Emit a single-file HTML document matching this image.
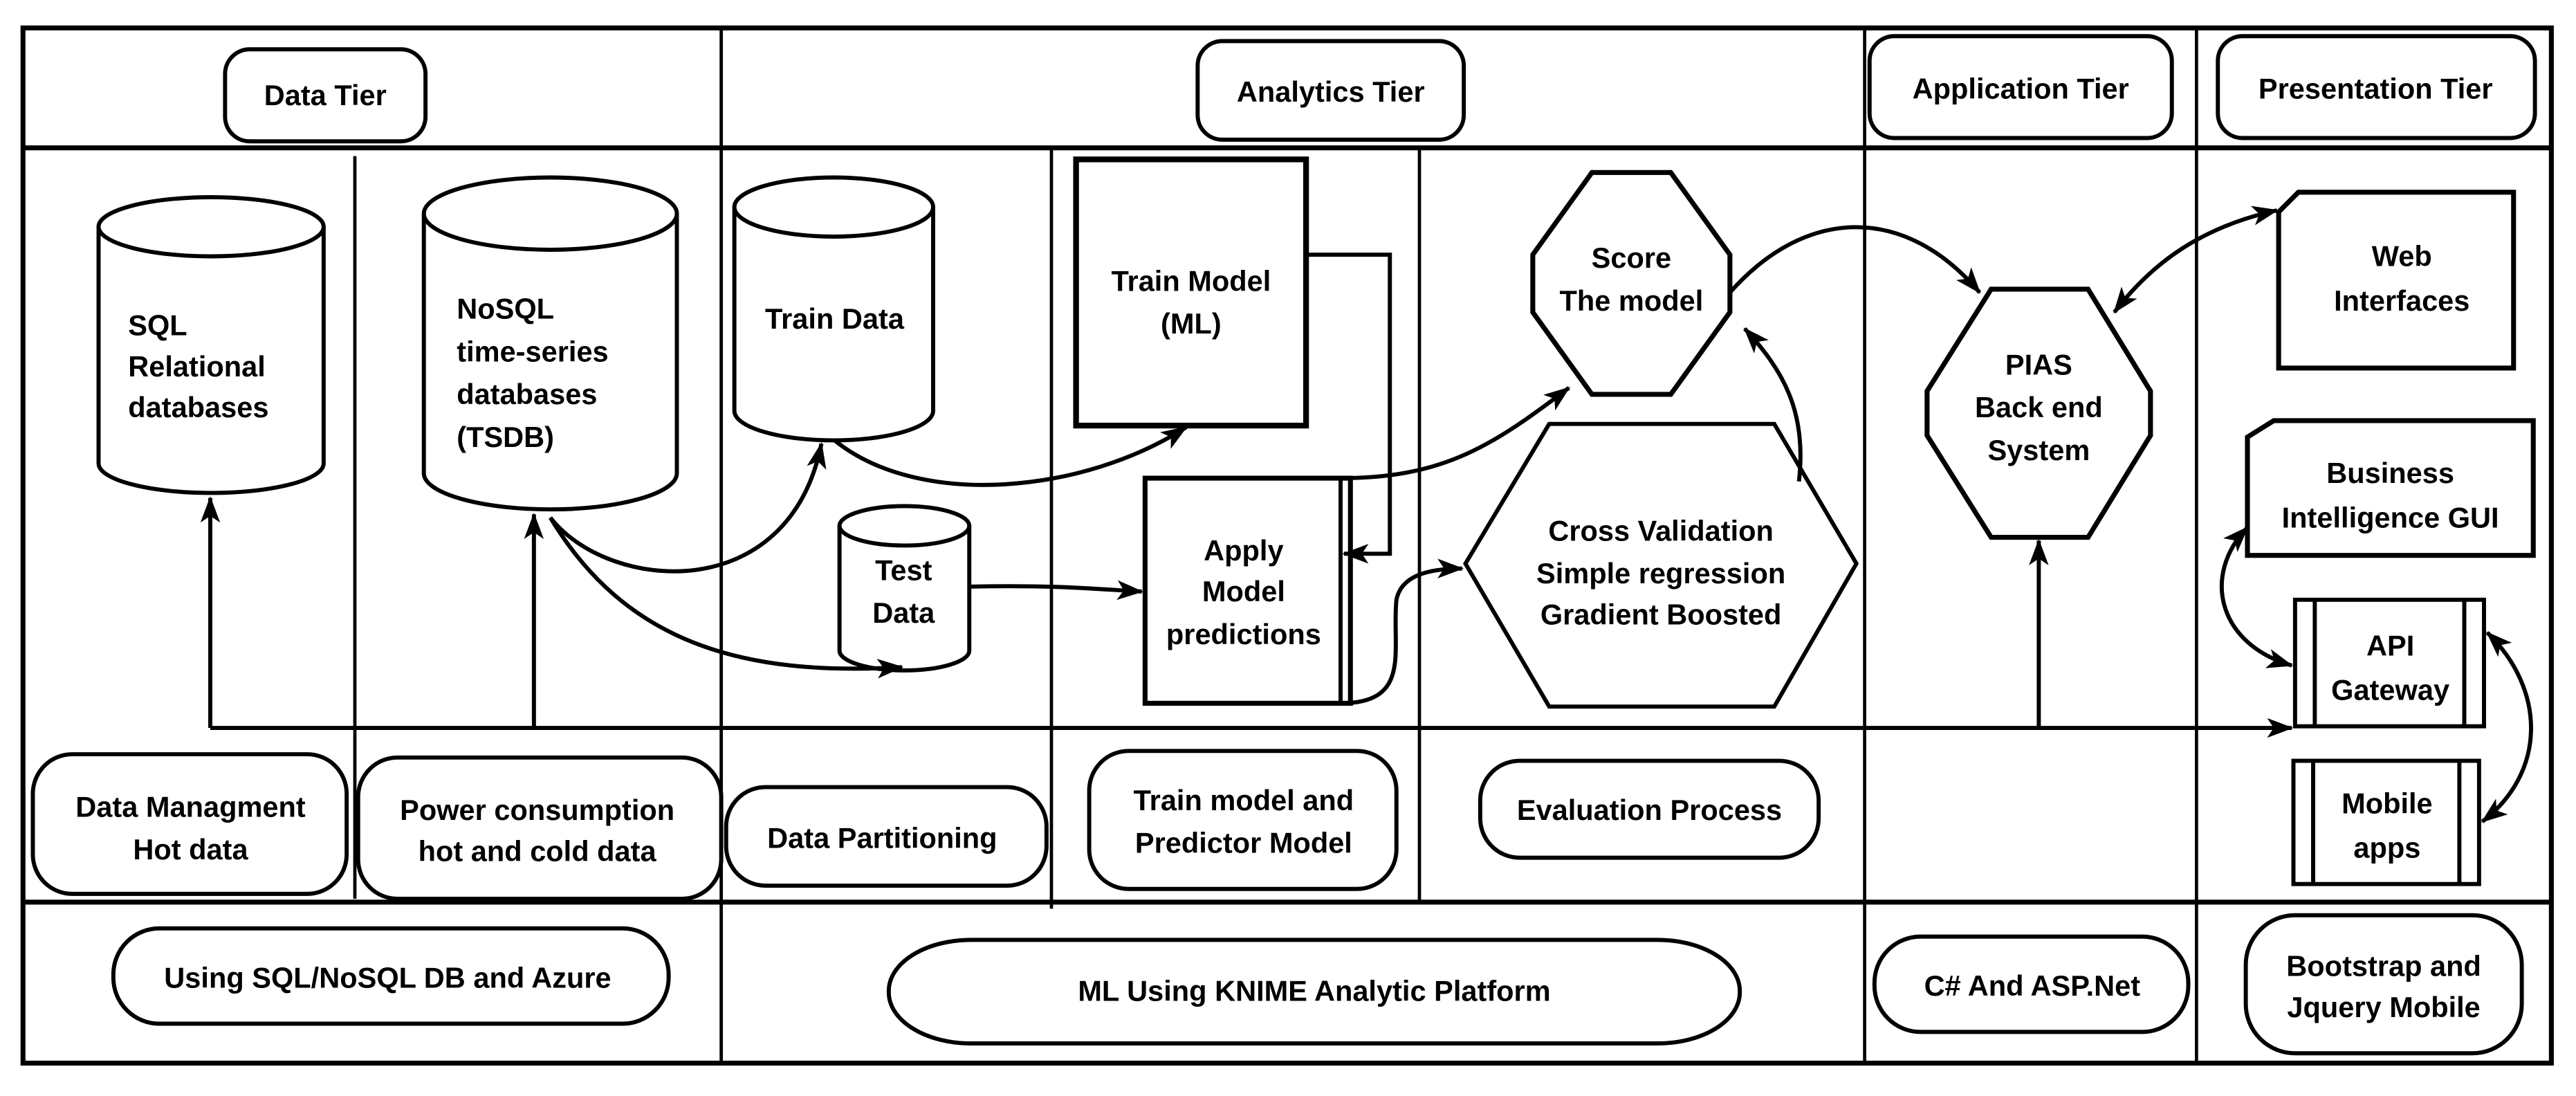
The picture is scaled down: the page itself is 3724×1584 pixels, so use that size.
<!DOCTYPE html>
<html><head><meta charset="utf-8"><style>
html,body{margin:0;padding:0;background:#fff;}
svg{display:block;}
text{font-family:"Liberation Sans","DejaVu Sans",sans-serif;font-weight:bold;font-size:17.5px;fill:#000;}
</style></head><body>
<svg width="3724" height="1584" viewBox="0 0 1568 667" preserveAspectRatio="none" xmlns="http://www.w3.org/2000/svg">
<defs>
<marker id="a" viewBox="0 0 16 12" refX="15" refY="6" markerWidth="16" markerHeight="12" markerUnits="userSpaceOnUse" orient="auto-start-reverse">
<path d="M0,0 L16,6 L0,12 L4,6 z" fill="#000"/>
</marker>
</defs>
<g fill="none" stroke="#000">
<rect x="14" y="17" width="1539" height="630" stroke-width="3"/>
<line x1="14" y1="90" x2="1553" y2="90" stroke-width="3"/>
<line x1="14" y1="549" x2="1553" y2="549" stroke-width="3"/>
<line x1="439" y1="17" x2="439" y2="647" stroke-width="2"/>
<line x1="1135" y1="17" x2="1135" y2="647" stroke-width="2"/>
<line x1="1337" y1="17" x2="1337" y2="647" stroke-width="2"/>
<line x1="216" y1="95" x2="216" y2="547" stroke-width="2"/>
<line x1="640" y1="90" x2="640" y2="553" stroke-width="2"/>
<line x1="864" y1="90" x2="864" y2="549" stroke-width="2"/>

<g stroke-width="2.5">
<rect x="137" y="30" width="122" height="56" rx="15"/>
<rect x="729" y="25" width="162" height="60" rx="15"/>
<rect x="1138" y="22" width="184" height="62" rx="15"/>
<rect x="1350" y="22" width="193" height="62" rx="15"/>

<path d="M60,138 V282 A68.5,18 0 0 0 197,282 V138"/><ellipse cx="128.5" cy="138" rx="68.5" ry="18"/>
<path d="M258,130 V288 A77,22 0 0 0 412,288 V130"/><ellipse cx="335" cy="130" rx="77" ry="22"/>
<path d="M447,126 V250 A60.5,18 0 0 0 568,250 V126"/><ellipse cx="507.5" cy="126" rx="60.5" ry="18"/>
<path d="M511,320 V396 A39.5,12 0 0 0 590,396 V320"/><ellipse cx="550.5" cy="320" rx="39.5" ry="12"/>

<rect x="655" y="97" width="140" height="162" stroke-width="3.5"/>
<rect x="697" y="291" width="125" height="137" stroke-width="3"/>
<line x1="816" y1="291" x2="816" y2="428"/>

<polygon points="892,343 943,258 1080,258 1130,343 1080,430 943,430"/>
<polygon points="969,105 1017,105 1053,155 1053,190 1017,240 969,240 933,190 933,155" stroke-width="3"/>
<polygon points="1212,176 1271,176 1309,238 1309,265 1271,327 1212,327 1173,265 1173,238" stroke-width="3"/>

<polygon points="1399,117 1530,117 1530,224 1387,224 1387,129" stroke-width="3"/>
<polygon points="1384,256 1542,256 1542,338 1368,338 1368,266" stroke-width="3"/>
<rect x="1397" y="365" width="115" height="77"/>
<line x1="1409" y1="365" x2="1409" y2="442"/><line x1="1500" y1="365" x2="1500" y2="442"/>
<rect x="1396" y="463" width="113" height="75"/>
<line x1="1408" y1="463" x2="1408" y2="538"/><line x1="1497" y1="463" x2="1497" y2="538"/>

<rect x="20" y="459" width="191" height="85" rx="24"/>
<rect x="218" y="461" width="221" height="86" rx="24"/>
<rect x="442" y="479" width="195" height="60" rx="24"/>
<rect x="663" y="457" width="187" height="84" rx="24"/>
<rect x="901" y="463" width="206" height="59" rx="24"/>
<rect x="69" y="565" width="338" height="58" rx="28"/>
<rect x="541" y="572" width="518" height="63" rx="50" ry="31"/>
<rect x="1141" y="570" width="191" height="58" rx="28"/>
<rect x="1367" y="557" width="168" height="84" rx="30"/>

<polyline points="128,443 1395,443" marker-end="url(#a)"/>
<line x1="128" y1="443" x2="128" y2="303" marker-end="url(#a)"/>
<line x1="325" y1="443" x2="325" y2="313" marker-end="url(#a)"/>
<line x1="1241" y1="443" x2="1241" y2="329" marker-end="url(#a)"/>
<path d="M335,315 C370,360 480,370 500,270" marker-end="url(#a)"/>
<path d="M335,315 C380,390 450,412 549,406" marker-end="url(#a)"/>
<path d="M508,268 C560,310 660,300 722,260" marker-end="url(#a)"/>
<path d="M590,357 C640,356 660,358 695,360" marker-end="url(#a)"/>
<polyline points="795,155 846,155 846,337 818,337" marker-end="url(#a)"/>
<path d="M816,291 C880,291 910,270 955,236" marker-end="url(#a)"/>
<path d="M816,428 C860,428 847,395 850,365 C853,350 870,346 890,346" marker-end="url(#a)"/>
<path d="M1095,293 C1100,250 1085,225 1062,200" marker-end="url(#a)"/>
<path d="M1053,178 C1100,125 1160,125 1205,178" marker-end="url(#a)"/>
<path d="M1386,128 C1340,138 1310,160 1287,190" marker-start="url(#a)" marker-end="url(#a)"/>
<path d="M1368,321 C1340,350 1350,392 1395,405" marker-start="url(#a)" marker-end="url(#a)"/>
<path d="M1514,385 C1550,420 1550,470 1511,500" marker-start="url(#a)" marker-end="url(#a)"/>
</g>
</g>

<g text-anchor="middle">
<text x="198" y="64">Data Tier</text>
<text x="810" y="62">Analytics Tier</text>
<text x="1230" y="60">Application Tier</text>
<text x="1446" y="60">Presentation Tier</text>

<text x="508" y="200">Train Data</text>
<text x="550" y="353">Test</text><text x="550" y="379">Data</text>
<text x="725" y="177">Train Model</text><text x="725" y="203">(ML)</text>
<text x="757" y="341">Apply</text><text x="757" y="366">Model</text><text x="757" y="392">predictions</text>
<text x="1011" y="329">Cross Validation</text><text x="1011" y="355">Simple regression</text><text x="1011" y="380">Gradient Boosted</text>
<text x="993" y="163">Score</text><text x="993" y="189">The model</text>
<text x="1241" y="228">PIAS</text><text x="1241" y="254">Back end</text><text x="1241" y="280">System</text>
<text x="1462" y="162">Web</text><text x="1462" y="189">Interfaces</text>
<text x="1455" y="294">Business</text><text x="1455" y="321">Intelligence GUI</text>
<text x="1455" y="399">API</text><text x="1455" y="426">Gateway</text>
<text x="1453" y="495">Mobile</text><text x="1453" y="522">apps</text>

<text x="116" y="497">Data Managment</text><text x="116" y="523">Hot data</text>
<text x="327" y="499">Power consumption</text><text x="327" y="524">hot and cold data</text>
<text x="537" y="516">Data Partitioning</text>
<text x="757" y="493">Train model and</text><text x="757" y="519">Predictor Model</text>
<text x="1004" y="499">Evaluation Process</text>
<text x="236" y="601">Using SQL/NoSQL DB and Azure</text>
<text x="800" y="609">ML Using KNIME Analytic Platform</text>
<text x="1237" y="606">C# And ASP.Net</text>
<text x="1451" y="594">Bootstrap and</text><text x="1451" y="619">Jquery Mobile</text>
</g>
<g>
<text x="78" y="204">SQL</text><text x="78" y="229">Relational</text><text x="78" y="254">databases</text>
<text x="278" y="194">NoSQL</text><text x="278" y="220">time-series</text><text x="278" y="246">databases</text><text x="278" y="272">(TSDB)</text>
</g>
</svg>
</body></html>
